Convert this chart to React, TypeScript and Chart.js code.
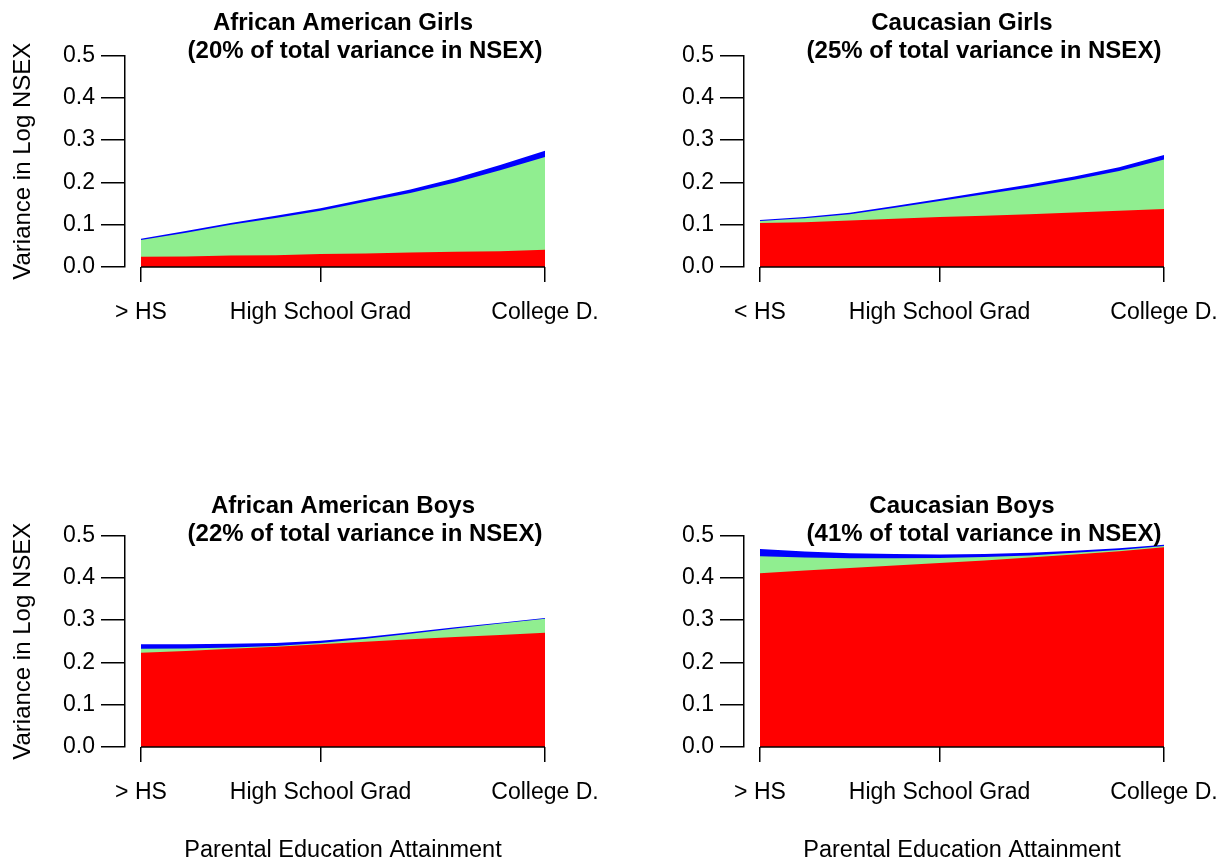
import React, { useEffect, useRef } from "react";
import { Chart, registerables } from "chart.js";

Chart.register(...registerables);

// ---- data ----
const years = [8, 9, 10, 11, 12, 13, 14, 15, 16, 17];
const xTickValues = [8, 12, 17];
const xLabelsGt = ["> HS", "High School Grad", "College D."];
const xLabelsLt = ["< HS", "High School Grad", "College D."];
const yTickValues = [0, 0.1, 0.2, 0.3, 0.4, 0.5];
const yTickLabels = ["0.0", "0.1", "0.2", "0.3", "0.4", "0.5"];

const aaGirlsRed = [0.024, 0.025, 0.027, 0.028, 0.031, 0.032, 0.034, 0.036, 0.037, 0.041];
const aaGirlsGreen = [0.04, 0.056, 0.073, 0.088, 0.102, 0.122, 0.141, 0.164, 0.192, 0.219];
const aaGirlsBlue = [0.003, 0.004, 0.004, 0.005, 0.006, 0.007, 0.008, 0.01, 0.012, 0.015];

const cGirlsRed = [0.104, 0.106, 0.11, 0.114, 0.118, 0.121, 0.125, 0.129, 0.133, 0.137];
const cGirlsGreen = [0.005, 0.009, 0.015, 0.026, 0.038, 0.051, 0.063, 0.077, 0.094, 0.117];
const cGirlsBlue = [0.002, 0.003, 0.003, 0.004, 0.005, 0.006, 0.007, 0.008, 0.009, 0.011];

const aaBoysRed = [0.223, 0.227, 0.232, 0.237, 0.243, 0.249, 0.255, 0.26, 0.265, 0.27];
const aaBoysGreen = [0.009, 0.006, 0.003, 0.002, 0.003, 0.007, 0.013, 0.02, 0.027, 0.033];
const aaBoysBlue = [0.011, 0.01, 0.009, 0.007, 0.005, 0.004, 0.003, 0.003, 0.002, 0.002];

const cBoysRed = [0.411, 0.417, 0.423, 0.429, 0.435, 0.441, 0.448, 0.455, 0.463, 0.472];
const cBoysGreen = [0.04, 0.031, 0.023, 0.017, 0.012, 0.008, 0.005, 0.004, 0.003, 0.003];
const cBoysBlue = [0.017, 0.014, 0.012, 0.01, 0.008, 0.007, 0.006, 0.005, 0.004, 0.003];

const titles1 = ["African American Girls", "Caucasian Girls", "African American Boys", "Caucasian Boys"];
const titles2 = [
  "(20% of total variance in NSEX)",
  "(25% of total variance in NSEX)",
  "(22% of total variance in NSEX)",
  "(41% of total variance in NSEX)",
];
const yTitle = "Variance in Log NSEX";
const xTitle = "Parental Education Attainment";

// ---- styling / layout ----
const FONT = "'Liberation Sans', Arial, Helvetica, sans-serif";
const AXIS_SIZE = 23;
const AXIS_TITLE_SIZE = 23.5;
const Y_TITLE_SIZE = 24;
const TITLE_SIZE = 24;
const RED = "#FF0000";
const GREEN = "#90EE90";
const BLUE = "#0000FF";
const X_PAD = 0.356;
const AREA_LEFT = 125;
const AREA_RIGHT = 561;
const AREA_TOP = 55.5;
const AREA_BOTTOM = 267;

type PanelProps = {
  left: number;
  top: number;
  width: number;
  height: number;
  title1: string;
  title2: string;
  red: number[];
  green: number[];
  blue: number[];
  xLabels: string[];
  showYTitle: boolean;
  showXTitle: boolean;
  titleShift: number;
};

function Panel(p: PanelProps) {
  const ref = useRef<HTMLCanvasElement>(null);
  useEffect(() => {
    if (!ref.current) return;
    const decor = {
      id: "panelDecor",
      afterDraw(chart: any) {
        const { ctx, chartArea } = chart;
        const xs = chart.scales.x;
        const ys = chart.scales.y;
        ctx.save();
        // x axis line between first and last tick
        const y0 = ys.getPixelForValue(0);
        ctx.strokeStyle = "#000";
        ctx.lineWidth = 1.5;
        ctx.beginPath();
        ctx.moveTo(xs.getPixelForValue(xTickValues[0]), y0);
        ctx.lineTo(xs.getPixelForValue(xTickValues[xTickValues.length - 1]), y0);
        ctx.stroke();
        // two-line bold title
        const cx = (chartArea.left + chartArea.right) / 2;
        ctx.fillStyle = "#000";
        ctx.font = `bold ${TITLE_SIZE}px ${FONT}`;
        ctx.textAlign = "center";
        ctx.textBaseline = "alphabetic";
        ctx.fillText(p.title1, cx, chartArea.top - 25.5 + p.titleShift);
        ctx.fillText(p.title2, cx + 22, chartArea.top + 2.2 + p.titleShift);
        ctx.restore();
      },
    };
    const mk = (vals: number[], color: string, label: string) => ({
      label,
      data: years.map((x, i) => ({ x, y: vals[i] })),
      backgroundColor: color,
      borderColor: color,
      borderWidth: 0,
      pointRadius: 0,
      fill: "origin",
      tension: 0,
    });
    const font = { size: AXIS_SIZE, family: FONT };
    const chart = new Chart(ref.current, {
      type: "line",
      data: {
        datasets: [mk(p.red, RED, "red"), mk(p.green, GREEN, "green"), mk(p.blue, BLUE, "blue")],
      },
      options: {
        animation: false,
        responsive: false,
        maintainAspectRatio: false,
        events: [],
        layout: { padding: { top: AREA_TOP, left: 0, right: p.width - AREA_RIGHT, bottom: 0 } },
        plugins: { legend: { display: false }, tooltip: { enabled: false }, title: { display: false } },
        scales: {
          x: {
            type: "linear",
            min: xTickValues[0] - X_PAD,
            max: xTickValues[xTickValues.length - 1] + X_PAD,
            afterBuildTicks: (s: any) => {
              s.ticks = xTickValues.map((v) => ({ value: v }));
            },
            afterFit: (s: any) => {
              s.height = p.height - AREA_BOTTOM;
              s.paddingLeft = 0;
              s.paddingRight = 0;
            },
            grid: { display: true, drawOnChartArea: false, drawTicks: true, tickLength: 15, color: "#000", lineWidth: 1.5 },
            border: { display: false },
            ticks: {
              autoSkip: false,
              maxRotation: 0,
              minRotation: 0,
              padding: 17,
              color: "#000",
              font,
              callback: (_v: any, i: number) => p.xLabels[i],
            },
            title: {
              display: p.showXTitle,
              text: xTitle,
              color: "#000",
              font: { size: AXIS_TITLE_SIZE, family: FONT, lineHeight: 1 },
              padding: { top: 0, bottom: 0 },
            },
          },
          y: {
            type: "linear",
            stacked: true,
            min: 0,
            max: 0.5,
            afterBuildTicks: (s: any) => {
              s.ticks = yTickValues.map((v) => ({ value: v }));
            },
            afterFit: (s: any) => {
              s.width = AREA_LEFT;
              s.paddingTop = 0;
              s.paddingBottom = 0;
            },
            grid: { display: true, drawOnChartArea: false, drawTicks: true, tickLength: 24, color: "#000", lineWidth: 1.5 },
            border: { display: true, color: "#000", width: 1.5 },
            ticks: {
              padding: 6,
              color: "#000",
              font,
              callback: (_v: any, i: number) => yTickLabels[i],
            },
            title: {
              display: p.showYTitle,
              text: yTitle,
              color: "#000",
              font: { size: Y_TITLE_SIZE, family: FONT },
              padding: { top: 9, bottom: 0 },
            },
          },
        },
      } as any,
      plugins: [decor],
    });
    return () => chart.destroy();
  }, []);
  return (
    <canvas
      ref={ref}
      width={p.width}
      height={p.height}
      style={{ position: "absolute", left: p.left, top: p.top, width: p.width, height: p.height }}
    />
  );
}

export default function App() {
  return (
    <div
      style={{
        position: "absolute",
        left: 0,
        top: 0,
        width: 1220,
        height: 862,
        overflow: "hidden",
        background: "#fff",
      }}
    >
      <Panel left={0} top={0} width={620} height={431} title1={titles1[0]} title2={titles2[0]}
        red={aaGirlsRed} green={aaGirlsGreen} blue={aaGirlsBlue} xLabels={xLabelsGt}
        showYTitle={true} showXTitle={false} titleShift={0} />
      <Panel left={619} top={0} width={601} height={431} title1={titles1[1]} title2={titles2[1]}
        red={cGirlsRed} green={cGirlsGreen} blue={cGirlsBlue} xLabels={xLabelsLt}
        showYTitle={false} showXTitle={false} titleShift={0} />
      <Panel left={0} top={480} width={620} height={382} title1={titles1[2]} title2={titles2[2]}
        red={aaBoysRed} green={aaBoysGreen} blue={aaBoysBlue} xLabels={xLabelsGt}
        showYTitle={true} showXTitle={true} titleShift={3} />
      <Panel left={619} top={480} width={601} height={382} title1={titles1[3]} title2={titles2[3]}
        red={cBoysRed} green={cBoysGreen} blue={cBoysBlue} xLabels={xLabelsGt}
        showYTitle={false} showXTitle={true} titleShift={3} />
    </div>
  );
}
